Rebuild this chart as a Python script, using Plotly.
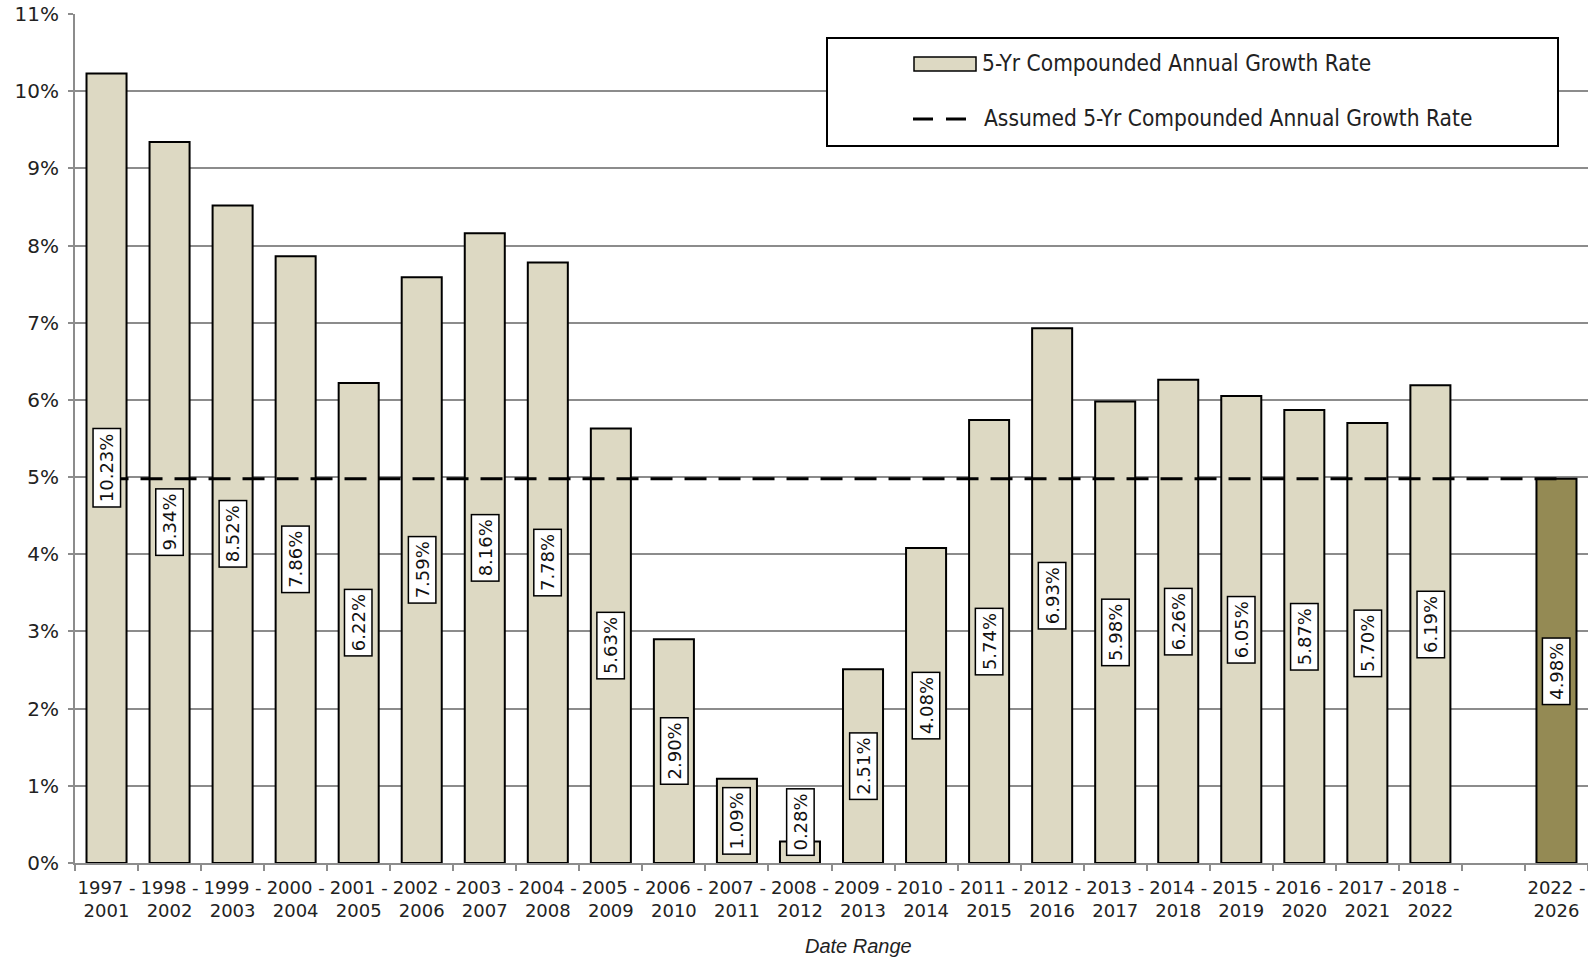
import plotly.graph_objects as go

# Five-year windows (blank slot separates the history from the forecast window)
periods = [
    "1997 -<br>2001", "1998 -<br>2002", "1999 -<br>2003", "2000 -<br>2004",
    "2001 -<br>2005", "2002 -<br>2006", "2003 -<br>2007", "2004 -<br>2008",
    "2005 -<br>2009", "2006 -<br>2010", "2007 -<br>2011", "2008 -<br>2012",
    "2009 -<br>2013", "2010 -<br>2014", "2011 -<br>2015", "2012 -<br>2016",
    "2013 -<br>2017", "2014 -<br>2018", "2015 -<br>2019", "2016 -<br>2020",
    "2017 -<br>2021", "2018 -<br>2022", " ", "2022 -<br>2026",
]
# 5-yr compounded annual growth rate, percent
cagr = [
    10.23, 9.34, 8.52, 7.86, 6.22, 7.59, 8.16, 7.78, 5.63, 2.90, 1.09, 0.28,
    2.51, 4.08, 5.74, 6.93, 5.98, 6.26, 6.05, 5.87, 5.70, 6.19, None, 4.98,
]
assumed_cagr = 4.98
forecast_period = "2022 -<br>2026"

LIGHT = "#DDD9C3"
DARK = "#948A54"
GRID = "#8C8C8C"
TEXT = "#222222"

bar_colors = [DARK if p == forecast_period else LIGHT for p in periods]

fig = go.Figure()
fig.add_trace(go.Bar(
    x=periods, y=cagr,
    marker=dict(color=bar_colors, line=dict(color="#000000", width=2)),
    showlegend=False, hoverinfo="x+y",
))
fig.add_trace(go.Scatter(
    x=[periods[0], periods[-1]], y=[assumed_cagr, assumed_cagr],
    mode="lines", line=dict(color="#000000", width=3, dash="22px,12px"),
    showlegend=False, hoverinfo="skip",
))

# value labels, rotated, in white boxes at mid-bar
label_nudge = {"1998 -<br>2002": -20}
annotations = []
for p, v in zip(periods, cagr):
    if v is None:
        continue
    annotations.append(dict(
        x=p, y=max(v / 2, 0.53), xref="x", yref="y",
        text=f"{v:.2f}%", textangle=-90, showarrow=False,
        font=dict(family="DejaVu Sans", size=18, color="#111111"),
        height=18,
        bgcolor="white", bordercolor="#000000", borderwidth=1.5, borderpad=4,
        yshift=label_nudge.get(p, 0),
    ))

# layout geometry in pixels
W, H = 1588, 958
L, R, T, B = 75, 0, 14, 95
PW, PH = W - L - R, H - T - B


def px_x(x):
    return (x - L) / PW


def px_y(y):
    return (H - B - y) / PH


shapes = [
    # legend frame
    dict(type="rect", xref="paper", yref="paper",
         x0=px_x(827), x1=px_x(1558), y0=px_y(146), y1=px_y(38),
         fillcolor="white", line=dict(color="#000000", width=2), layer="above"),
    # legend bar swatch
    dict(type="rect", xref="paper", yref="paper",
         x0=px_x(914), x1=px_x(976), y0=px_y(71), y1=px_y(57),
         fillcolor=LIGHT, line=dict(color="#000000", width=1.5), layer="above"),
    # legend dashed swatch
    dict(type="line", xref="paper", yref="paper",
         x0=px_x(913), x1=px_x(967), y0=px_y(119), y1=px_y(119),
         line=dict(color="#000000", width=3, dash="20px,13px"), layer="above"),
]

legend_font = dict(family="DejaVu Sans Condensed, Liberation Sans Narrow, sans-serif",
                   size=22.5, color=TEXT)
annotations += [
    dict(x=px_x(980), y=px_y(63), xref="paper", yref="paper",
         text="5-Yr Compounded Annual Growth Rate", showarrow=False,
         xanchor="left", yanchor="middle", font=legend_font),
    dict(x=px_x(982), y=px_y(118), xref="paper", yref="paper",
         text="Assumed 5-Yr Compounded Annual Growth Rate", showarrow=False,
         xanchor="left", yanchor="middle", font=legend_font),
    dict(x=px_x(858), y=px_y(946), xref="paper", yref="paper",
         text="<i>Date Range</i>", showarrow=False,
         xanchor="center", yanchor="middle",
         font=dict(family="Liberation Sans, sans-serif", size=20, color=TEXT)),
]

fig.update_layout(
    width=W, height=H,
    margin=dict(l=L, r=R, t=T, b=B, pad=0),
    paper_bgcolor="white", plot_bgcolor="white",
    bargap=0.365,
    shapes=shapes,
    annotations=annotations,
    font=dict(family="DejaVu Sans", color=TEXT),
)
fig.update_xaxes(
    type="category", categoryorder="array", categoryarray=periods,
    range=[-0.5, len(periods) - 0.5],
    showline=True, linecolor=GRID, linewidth=2,
    ticks="outside", tickson="boundaries", ticklen=6, tickwidth=2, tickcolor=GRID,
    tickfont=dict(family="DejaVu Sans", size=18, color=TEXT),
    ticklabelstandoff=7,
    showgrid=False, tickangle=0,
)
fig.update_yaxes(
    range=[0, 11], dtick=1, ticksuffix="%",
    showline=True, linecolor=GRID, linewidth=2,
    showgrid=True, gridcolor=GRID, gridwidth=2,
    ticks="outside", ticklen=5, tickwidth=2, tickcolor=GRID,
    tickfont=dict(family="DejaVu Sans", size=20, color=TEXT),
    ticklabelstandoff=5,
    zeroline=False,
)

fig.write_html("out.html")
